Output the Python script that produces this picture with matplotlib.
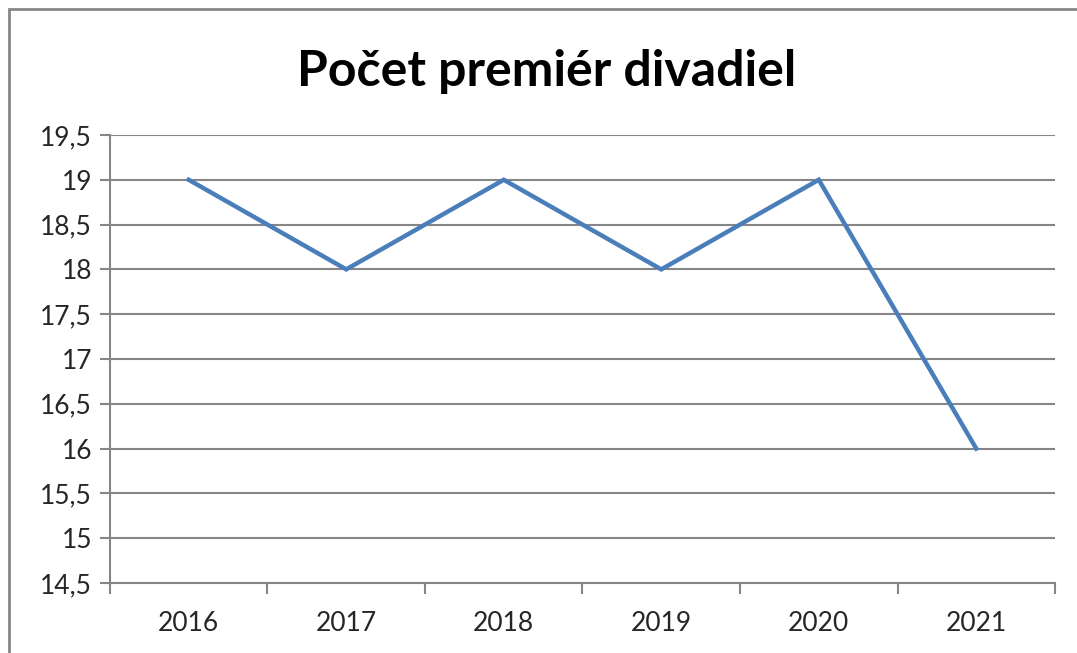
import matplotlib.pyplot as plt
from matplotlib.patches import Rectangle

years = ["2016", "2017", "2018", "2019", "2020", "2021"]
premiery = [19, 18, 19, 18, 19, 16]
y_ticks = [14.5, 15, 15.5, 16, 16.5, 17, 17.5, 18, 18.5, 19, 19.5]

plt.rcParams['font.family'] = ['Lato', 'DejaVu Sans']

fig = plt.figure(figsize=(10.77, 6.53), dpi=100)
ax = fig.add_axes([0.1021, 0.1072, 0.8775, 0.6861])

x = list(range(len(years)))
ax.plot(x, premiery, color='#4a7ebb', linewidth=3.2, solid_joinstyle='miter')

ax.set_xlim(-0.5, len(years) - 0.5)
ax.set_ylim(14.5, 19.5)
ax.set_yticks(y_ticks)
ax.set_yticklabels([f"{v:g}".replace('.', ',') for v in y_ticks], fontsize=19, color='#262626')
ax.set_xticks(x)
ax.set_xticklabels(years, fontsize=19, color='#262626')
ax.set_xticks([i - 0.5 for i in range(len(years) + 1)], minor=True)
ax.tick_params(axis='x', which='major', length=0, pad=20)
ax.tick_params(axis='x', which='minor', length=8, color='#868686', width=1.5)
ax.tick_params(axis='y', length=7, color='#868686', width=1.5, pad=6)

ax.grid(axis='y', color='#868686', linewidth=1.5)
ax.set_axisbelow(True)
for s in ['top', 'right']:
    ax.spines[s].set_visible(False)
for s in ['left', 'bottom']:
    ax.spines[s].set_color('#868686')
    ax.spines[s].set_linewidth(1.5)

fig.text(0.508, 0.89, "Počet premiér divadiel", ha='center', va='center',
         fontsize=36, fontweight='bold', color='black')

# outer chart border
fig.patches.append(Rectangle((9 / 1077, -0.05), 1.1, 0.05 + 1 - 9 / 653,
                             transform=fig.transFigure, fill=False,
                             edgecolor='#878787', linewidth=2))

fig.savefig("out.png", dpi=100)
